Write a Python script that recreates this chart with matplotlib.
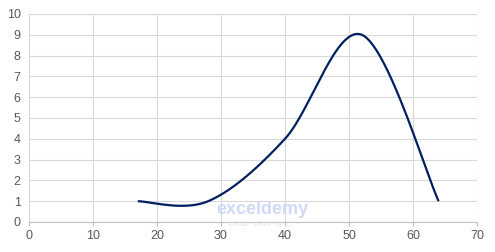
import numpy as np
import matplotlib
matplotlib.use('Agg')
import matplotlib.pyplot as plt

# data points
x_vals = [17, 28, 40, 52, 64]
y_vals = [1, 1, 4, 9, 1]
x_ticks = [0, 10, 20, 30, 40, 50, 60, 70]
y_ticks = [0, 1, 2, 3, 4, 5, 6, 7, 8, 9, 10]


def excel_smooth(xs, ys, n=60):
    """Bezier smoothing similar to Excel's smoothed scatter line."""
    p = np.column_stack([xs, ys]).astype(float)
    out = []
    for i in range(len(p) - 1):
        p0 = p[i - 1] if i > 0 else p[i]
        p1, p2 = p[i], p[i + 1]
        p3 = p[i + 2] if i + 2 < len(p) else p[i + 1]
        c1 = p1 + (p2 - p0) / 6.0
        c2 = p2 - (p3 - p1) / 6.0
        t = np.linspace(0, 1, n)[:, None]
        seg = ((1 - t) ** 3) * p1 + 3 * ((1 - t) ** 2) * t * c1 + 3 * (1 - t) * t ** 2 * c2 + t ** 3 * p2
        out.append(seg if i == 0 else seg[1:])
    out = np.vstack(out)
    return out[:, 0], out[:, 1]


plt.rcParams['font.family'] = ['Liberation Sans', 'DejaVu Sans']

fig = plt.figure(figsize=(4.95, 2.52), dpi=100)
ax = fig.add_axes([29 / 495, 1 - 222 / 252, 448 / 495, 208 / 252])

sx, sy = excel_smooth(x_vals, y_vals)
ax.plot(sx, sy, color='#002060', linewidth=1.6, solid_capstyle='butt', zorder=3)

ax.set_xlim(0, 70)
ax.set_ylim(0, 10)
ax.set_xticks(x_ticks)
ax.set_yticks(y_ticks)
ax.grid(True, color='#d9d9d9', linewidth=0.8)
ax.set_axisbelow(True)
for s in ['top', 'right', 'left']:
    ax.spines[s].set_visible(False)
ax.spines['bottom'].set_color('#bfbfbf')
ax.spines['bottom'].set_linewidth(0.8)
ax.tick_params(axis='x', colors='#bfbfbf', length=3, width=0.8, labelcolor='#595959', labelsize=9, pad=3)
ax.tick_params(axis='y', length=0, labelcolor='#595959', labelsize=9, pad=6)

# faint watermark
fig.text(0.53, 1 - 210 / 252, 'exceldemy', color='#c9d6f5', fontsize=13, fontweight='bold',
         ha='center', va='center', zorder=0, alpha=0.9)
fig.text(0.515, 1 - 224.5 / 252, 'EXCEL · DATA · BI', color='#d5dbe6', fontsize=4.5,
         ha='center', va='center', zorder=0)

fig.savefig('out.png', dpi=100)
